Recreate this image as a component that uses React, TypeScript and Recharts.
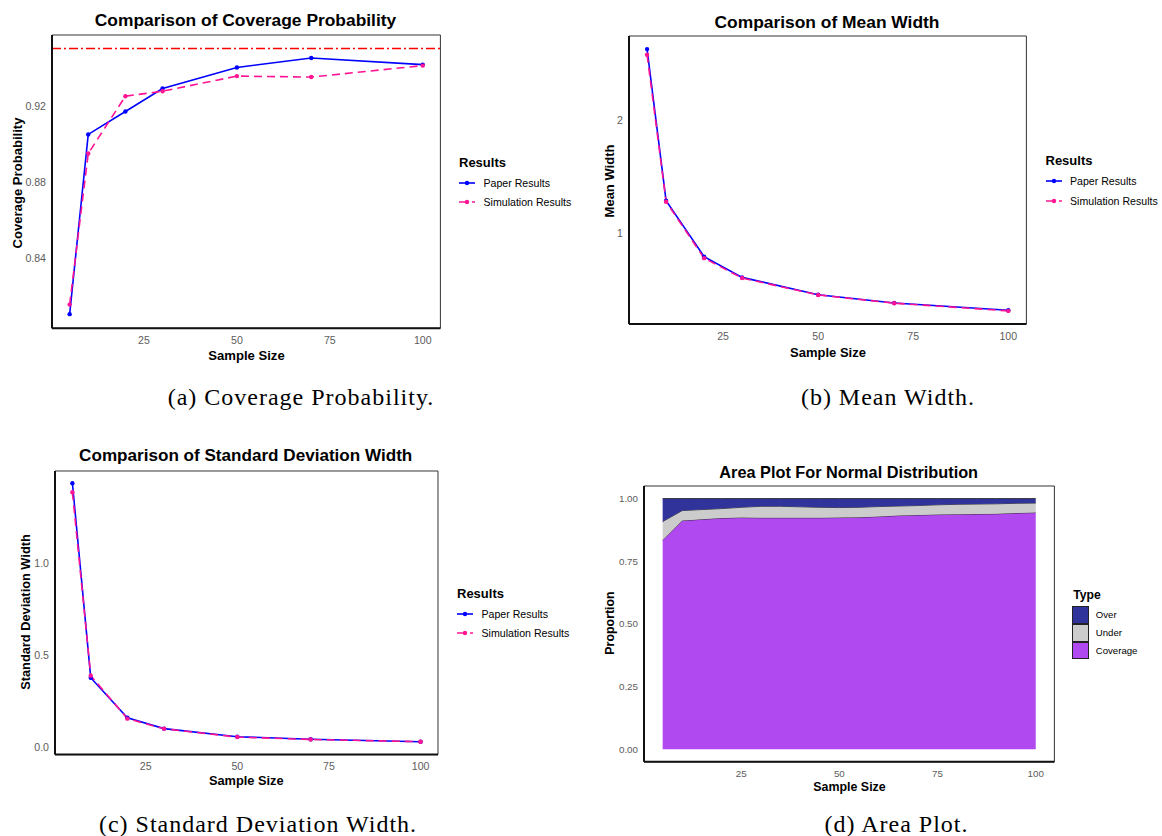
import React from 'react'
import {
  Area,
  AreaChart,
  Line,
  LineChart,
  ReferenceArea,
  ReferenceLine,
  XAxis,
  YAxis,
} from 'recharts'

// sample sizes used in the three comparison plots
const sampleSizes = [5, 10, 20, 30, 50, 70, 100]
const xTicks = [25, 50, 75, 100]

const paperCoverage = [0.811, 0.905, 0.917, 0.929, 0.94, 0.945, 0.9415]
const simCoverage = [0.816, 0.895, 0.925, 0.9276, 0.9355, 0.935, 0.941]
const nominalLevel = 0.95

const paperMeanWidth = [2.628, 1.288, 0.794, 0.61, 0.457, 0.384, 0.319]
const simMeanWidth = [2.578, 1.279, 0.78, 0.604, 0.455, 0.382, 0.314]

const paperSdWidth = [1.431, 0.377, 0.16, 0.101, 0.057, 0.043, 0.03]
const simSdWidth = [1.382, 0.388, 0.155, 0.1, 0.055, 0.042, 0.03]

// area plot (normal distribution)
const areaSizes = [5, 10, 15, 20, 25, 30, 35, 40, 45, 50, 55, 60, 65, 70, 75, 80, 85, 90, 95, 100]
const coverageProp = [0.835, 0.912, 0.917, 0.922, 0.924, 0.923, 0.923, 0.923, 0.923, 0.924, 0.925, 0.928, 0.932, 0.934, 0.936, 0.937, 0.938, 0.939, 0.942, 0.944]
const underProp = [0.073, 0.04, 0.039, 0.038, 0.041, 0.046, 0.046, 0.044, 0.042, 0.04, 0.04, 0.04, 0.038, 0.038, 0.039, 0.04, 0.04, 0.04, 0.039, 0.038]
const overProp = [0.092, 0.048, 0.044, 0.04, 0.035, 0.031, 0.031, 0.033, 0.035, 0.036, 0.035, 0.032, 0.03, 0.028, 0.025, 0.023, 0.022, 0.021, 0.019, 0.018]

const BLUE = '#0000ff'
const PINK = '#ff1493'
const OVER = '#30339a'
const UNDER = '#cccccc'
const COVER = '#b049ef'
const TICK = '#5c5c5c'
const SANS = '"Liberation Sans", Arial, sans-serif'
const SERIF = '"Liberation Serif", "Times New Roman", serif'
const X_DOMAIN: [number, number] = [0.25, 104.75]

const toRows = (paper: number[], sim: number[]) =>
  sampleSizes.map((n, i) => ({ n, paper: paper[i], sim: sim[i] }))

const areaRows = areaSizes.map((n, i) => ({
  n,
  coverage: coverageProp[i],
  under: underProp[i],
  over: overProp[i],
}))

type Box = { left: number; top: number; right: number; bottom: number }

const Txt = ({
  x,
  y,
  size,
  bold = false,
  rotate = false,
  align = 'center',
  font = SANS,
  spacing = 0,
  children,
}: {
  x: number
  y: number
  size: number
  bold?: boolean
  rotate?: boolean
  align?: 'center' | 'left'
  font?: string
  spacing?: number
  children: React.ReactNode
}) => (
  <div
    style={{
      position: 'absolute',
      left: x,
      top: y,
      transform: `translate(${align === 'center' ? '-50%' : '0'},-50%)${rotate ? ' rotate(-90deg)' : ''}`,
      fontFamily: font,
      fontSize: size,
      fontWeight: bold ? 700 : 400,
      letterSpacing: spacing,
      lineHeight: 1,
      whiteSpace: 'nowrap',
      color: '#000',
    }}
  >
    {children}
  </div>
)

const LinePanel = ({
  box,
  rows,
  yDomain,
  yTicks,
  yFormat,
  refY,
}: {
  box: Box
  rows: { n: number; paper: number; sim: number }[]
  yDomain: [number, number]
  yTicks: number[]
  yFormat: (v: number) => string
  refY?: number
}) => {
  const yAxisW = 50
  const padTop = 10
  const padRight = 10
  const xAxisH = 30
  const width = box.right - box.left + yAxisW + padRight
  const height = box.bottom - box.top + padTop + xAxisH
  const tickStyle = { fill: TICK, fontSize: 10.6, fontFamily: SANS }
  return (
    <div style={{ position: 'absolute', left: box.left - yAxisW, top: box.top - padTop }}>
      <LineChart width={width} height={height} data={rows} margin={{ top: padTop, right: padRight, bottom: 0, left: 0 }}>
        <XAxis
          type='number'
          dataKey='n'
          domain={X_DOMAIN}
          allowDataOverflow
          ticks={xTicks}
          height={xAxisH}
          tickLine={false}
          axisLine={{ stroke: '#111', strokeWidth: 2 }}
          tick={tickStyle}
        />
        <YAxis
          type='number'
          domain={yDomain}
          allowDataOverflow
          ticks={yTicks}
          width={yAxisW}
          tickLine={false}
          tickSize={4}
          tickMargin={2}
          tickFormatter={yFormat}
          axisLine={{ stroke: '#111', strokeWidth: 2 }}
          tick={tickStyle}
        />
        <ReferenceArea
          x1={X_DOMAIN[0]}
          x2={X_DOMAIN[1]}
          y1={yDomain[0]}
          y2={yDomain[1]}
          fill='none'
          stroke='#333'
          strokeWidth={1}
        />
        {refY !== undefined && (
          <ReferenceLine y={refY} stroke='#ff0000' strokeWidth={1.5} strokeDasharray='9 3 2 3' />
        )}
        <Line
          type='linear'
          dataKey='paper'
          stroke={BLUE}
          strokeWidth={1.6}
          dot={{ r: 2.2, fill: BLUE, stroke: BLUE, strokeWidth: 0 }}
          activeDot={false}
          isAnimationActive={false}
        />
        <Line
          type='linear'
          dataKey='sim'
          stroke={PINK}
          strokeWidth={1.6}
          strokeDasharray='8 5'
          dot={{ r: 2.2, fill: PINK, stroke: PINK, strokeWidth: 0, strokeDasharray: '0' }}
          activeDot={false}
          isAnimationActive={false}
        />
      </LineChart>
    </div>
  )
}

const ResultsLegend = ({ x, y }: { x: number; y: number }) => (
  <>
    <Txt x={x} y={y} size={13} bold align='left'>Results</Txt>
    {[
      { label: 'Paper Results', color: BLUE, dash: undefined },
      { label: 'Simulation Results', color: PINK, dash: '8 5' },
    ].map((item, i) => (
      <React.Fragment key={item.label}>
        <svg
          width={16}
          height={8}
          style={{ position: 'absolute', left: x, top: y + 21 + i * 19.5 - 4 }}
        >
          <line x1={0} x2={16} y1={4} y2={4} stroke={item.color} strokeWidth={1.6} strokeDasharray={item.dash} />
          <circle cx={8} cy={4} r={2.2} fill={item.color} />
        </svg>
        <Txt x={x + 24.5} y={y + 21 + i * 19.5} size={10.6} align='left'>
          {item.label}
        </Txt>
      </React.Fragment>
    ))}
  </>
)

const AreaPanel = ({ box }: { box: Box }) => {
  const yAxisW = 50
  const padTop = 10
  const padRight = 10
  const xAxisH = 30
  const width = box.right - box.left + yAxisW + padRight
  const height = box.bottom - box.top + padTop + xAxisH
  const tickStyle = { fill: TICK, fontSize: 9.8, fontFamily: SANS }
  const yDomain: [number, number] = [-0.05, 1.05]
  return (
    <div style={{ position: 'absolute', left: box.left - yAxisW, top: box.top - padTop }}>
      <AreaChart width={width} height={height} data={areaRows} margin={{ top: padTop, right: padRight, bottom: 0, left: 0 }}>
        <XAxis
          type='number'
          dataKey='n'
          domain={X_DOMAIN}
          allowDataOverflow
          ticks={xTicks}
          height={xAxisH}
          tickLine={false}
          axisLine={{ stroke: '#111', strokeWidth: 2 }}
          tick={tickStyle}
        />
        <YAxis
          type='number'
          domain={yDomain}
          allowDataOverflow
          ticks={[0, 0.25, 0.5, 0.75, 1]}
          width={yAxisW}
          tickLine={false}
          tickSize={4}
          tickMargin={2}
          tickFormatter={(v: number) => v.toFixed(2)}
          axisLine={{ stroke: '#111', strokeWidth: 2 }}
          tick={tickStyle}
        />
        <Area type='linear' dataKey='coverage' stackId='a' fill={COVER} fillOpacity={1} stroke='#222' strokeWidth={0.8} isAnimationActive={false} activeDot={false} />
        <Area type='linear' dataKey='under' stackId='a' fill={UNDER} fillOpacity={1} stroke='#222' strokeWidth={0.8} isAnimationActive={false} activeDot={false} />
        <Area type='linear' dataKey='over' stackId='a' fill={OVER} fillOpacity={1} stroke='#222' strokeWidth={0.8} isAnimationActive={false} activeDot={false} />
        <ReferenceArea
          x1={X_DOMAIN[0]}
          x2={X_DOMAIN[1]}
          y1={yDomain[0]}
          y2={yDomain[1]}
          fill='none'
          stroke='#333'
          strokeWidth={1}
        />
      </AreaChart>
    </div>
  )
}

const TypeLegend = ({ x, y }: { x: number; y: number }) => (
  <>
    <Txt x={x + 1} y={y} size={12.2} bold align='left'>Type</Txt>
    {[
      { label: 'Over', color: OVER },
      { label: 'Under', color: UNDER },
      { label: 'Coverage', color: COVER },
    ].map((item, i) => (
      <React.Fragment key={item.label}>
        <div
          style={{
            position: 'absolute',
            left: x,
            top: y + 11 + i * 17.8,
            width: 17,
            height: 17.8,
            boxSizing: 'border-box',
            background: item.color,
            border: '1px solid #222',
          }}
        />
        <Txt x={x + 23.5} y={y + 11 + i * 17.8 + 8.9} size={9.6} align='left'>
          {item.label}
        </Txt>
      </React.Fragment>
    ))}
  </>
)

export default function App() {
  return (
    <div
      style={{
        position: 'absolute',
        left: 0,
        top: 0,
        width: 1162,
        height: 836,
        background: '#fff',
        overflow: 'hidden',
        fontFamily: SANS,
      }}
    >
      {/* (a) coverage probability */}
      <Txt x={245.5} y={21} size={17.4} bold>Comparison of Coverage Probability</Txt>
      <LinePanel
        box={{ left: 52.3, top: 35, right: 440.7, bottom: 328.3 }}
        rows={toRows(paperCoverage, simCoverage)}
        yDomain={[0.8036, 0.957]}
        yTicks={[0.84, 0.88, 0.92]}
        yFormat={(v) => v.toFixed(2)}
        refY={nominalLevel}
      />
      <Txt x={246.5} y={356} size={13.1} bold>Sample Size</Txt>
      <Txt x={17.7} y={182.5} size={13.1} bold rotate>Coverage Probability</Txt>
      <ResultsLegend x={459} y={161.7} />
      <Txt x={301} y={396.5} size={24} font={SERIF} spacing={1}>(a) Coverage Probability.</Txt>

      {/* (b) mean width */}
      <Txt x={827} y={22.7} size={17.4} bold>Comparison of Mean Width</Txt>
      <LinePanel
        box={{ left: 629.3, top: 36, right: 1026.7, bottom: 324 }}
        rows={toRows(paperMeanWidth, simMeanWidth)}
        yDomain={[0.198, 2.744]}
        yTicks={[1, 2]}
        yFormat={(v) => String(v)}
      />
      <Txt x={828} y={351.7} size={13} bold>Sample Size</Txt>
      <Txt x={609} y={180.8} size={13} bold rotate>Mean Width</Txt>
      <ResultsLegend x={1045.5} y={160} />
      <Txt x={888} y={396.5} size={24} font={SERIF} spacing={1}>(b) Mean Width.</Txt>

      {/* (c) standard deviation width */}
      <Txt x={245.7} y={456} size={17.1} bold>Comparison of Standard Deviation Width</Txt>
      <LinePanel
        box={{ left: 55.3, top: 470.7, right: 438.3, bottom: 754.3 }}
        rows={toRows(paperSdWidth, simSdWidth)}
        yDomain={[-0.04, 1.4976]}
        yTicks={[0, 0.5, 1]}
        yFormat={(v) => v.toFixed(1)}
      />
      <Txt x={246.3} y={780.7} size={12.8} bold>Sample Size</Txt>
      <Txt x={26} y={611.8} size={12.8} bold rotate>Standard Deviation Width</Txt>
      <ResultsLegend x={457} y={592.7} />
      <Txt x={258} y={824} size={24} font={SERIF} spacing={1}>(c) Standard Deviation Width.</Txt>

      {/* (d) area plot */}
      <Txt x={848.7} y={471.7} size={16.3} bold>Area Plot For Normal Distribution</Txt>
      <AreaPanel box={{ left: 644.3, top: 485.7, right: 1054.7, bottom: 761.5 }} />
      <Txt x={849.5} y={787.3} size={12.4} bold>Sample Size</Txt>
      <Txt x={610} y={623.3} size={12.4} bold rotate>Proportion</Txt>
      <TypeLegend x={1072.3} y={595} />
      <Txt x={896.5} y={824} size={24} font={SERIF} spacing={1}>(d) Area Plot.</Txt>
    </div>
  )
}
